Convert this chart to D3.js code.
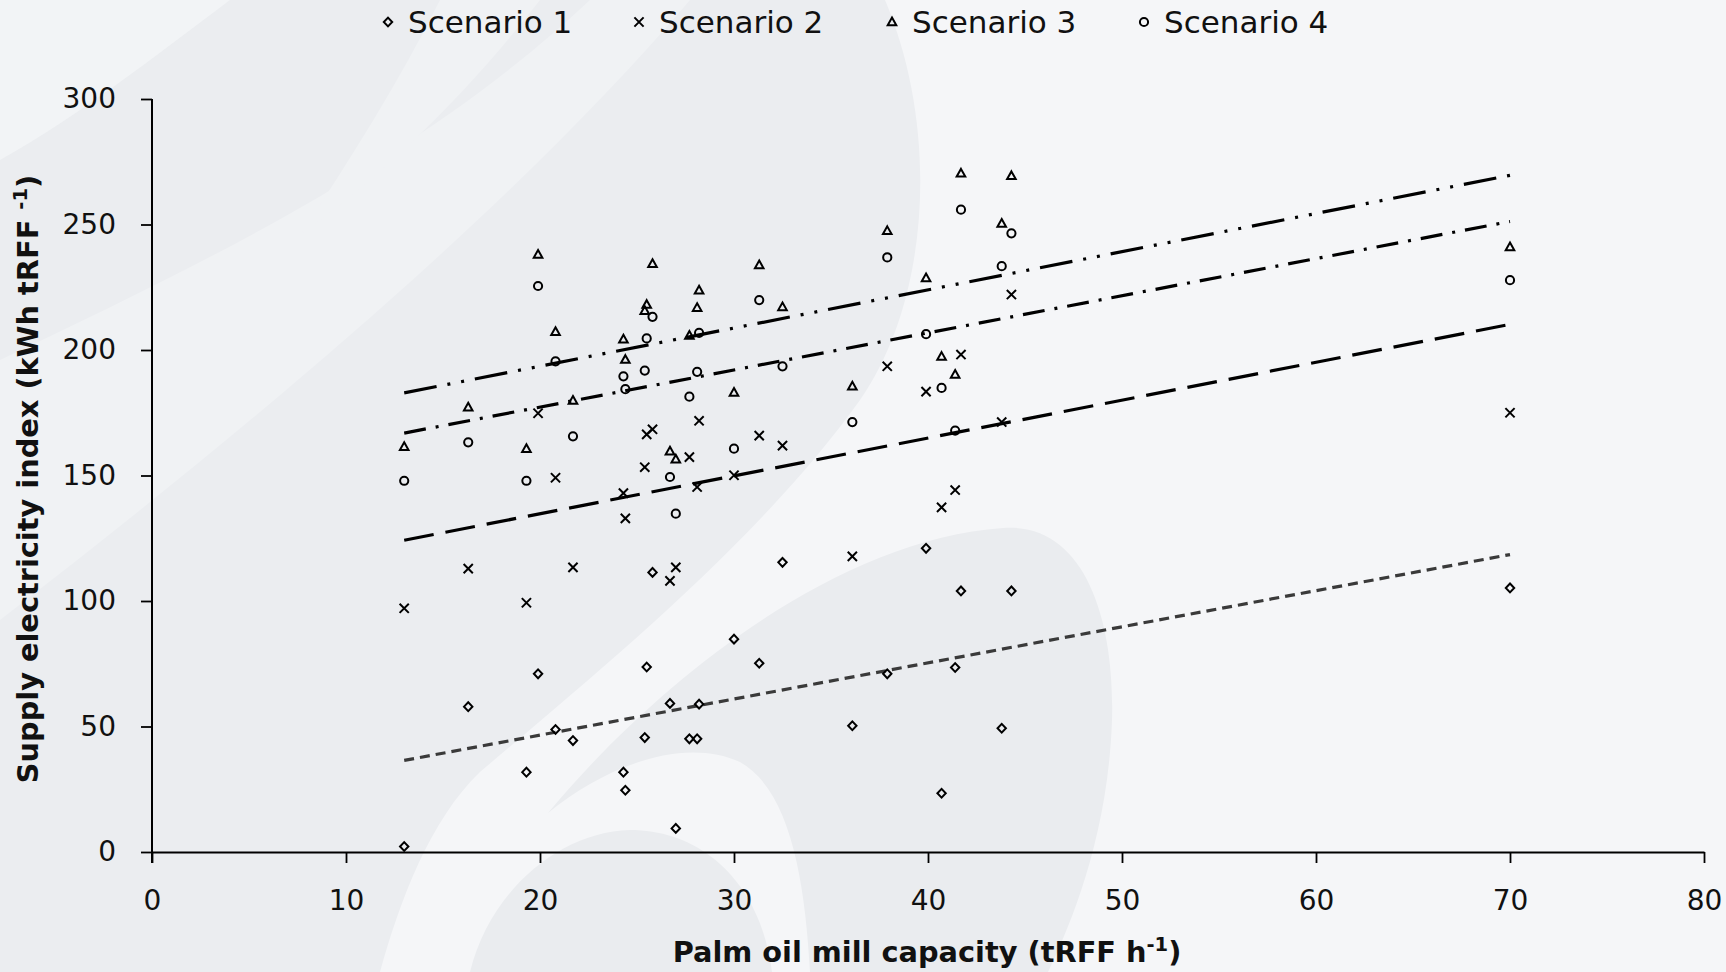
<!DOCTYPE html>
<html>
<head>
<meta charset="utf-8">
<script src="https://cdn.jsdelivr.net/npm/d3@7"></script>
<style>
body { margin: 0; background: #ebedf0; }
svg { display: block; }
</style>
</head>
<body>
<div id="chart"></div>
<script>
// palm oil mill capacity (tRFF/h) and supply electricity index per scenario
var capacity  = [13.0, 16.3, 19.3, 19.9, 20.8, 21.7, 24.3, 24.4, 25.4, 25.5, 25.8, 26.7, 27.0, 27.7, 28.1, 28.2, 30.0, 31.3, 32.5, 36.1, 37.9, 39.9, 40.7, 41.4, 41.7, 43.8, 44.3, 70.0];
var scenario1 = [2.2, 57.9, 31.8, 71.0, 48.8, 44.4, 31.8, 24.6, 45.6, 73.7, 111.4, 59.2, 9.4, 45.1, 45.1, 58.9, 84.8, 75.2, 115.4, 50.3, 71.0, 121.0, 23.4, 73.5, 104.0, 49.3, 104.0, 105.2];
var scenario2 = [97.1, 112.9, 99.3, 174.8, 149.1, 113.4, 143.0, 132.9, 153.3, 166.4, 168.4, 108.0, 113.4, 157.3, 145.4, 171.8, 150.1, 165.9, 161.9, 117.8, 193.5, 183.4, 137.3, 144.2, 198.2, 171.3, 222.1, 175.0];
var scenario3 = [161.5, 177.2, 160.7, 238.1, 207.3, 179.9, 204.3, 196.2, 215.7, 218.1, 234.4, 159.7, 156.5, 205.8, 216.9, 223.8, 183.1, 233.9, 217.2, 185.6, 247.5, 228.7, 197.4, 190.3, 270.4, 250.4, 269.4, 241.1];
var scenario4 = [147.9, 163.2, 147.9, 225.5, 195.5, 165.6, 189.5, 184.4, 191.8, 204.6, 213.2, 149.4, 134.8, 181.4, 191.3, 206.8, 160.7, 219.9, 193.5, 171.3, 236.9, 206.3, 184.9, 167.9, 255.9, 233.4, 246.5, 227.8];

// linear trendlines (start / end values)
var trendX = [13, 70];
var trend1 = [36.5, 118.5];
var trend2 = [124.2, 210.2];
var trend3 = [182.9, 269.6];
var trend4 = [166.9, 251.2];

var seriesNames = ["Scenario 1", "Scenario 2", "Scenario 3", "Scenario 4"];
var xTicks = [0, 10, 20, 30, 40, 50, 60, 70, 80];
var yTicks = [0, 50, 100, 150, 200, 250, 300];

var W = 1726, H = 972;
var font = "DejaVu Sans";

var svg = d3.select("#chart").append("svg")
    .attr("width", W)
    .attr("height", H);

// decorative background (faint watermark shapes)
var bg = svg.append("g");
bg.append("rect").attr("width", W).attr("height", H).attr("fill", "#ebedf0");
bg.append("path").attr("fill", "#f2f4f6")
    .attr("d", "M0,0 L230,0 C150,60 80,115 0,160 Z");
bg.append("path").attr("fill", "#f0f2f4")
    .attr("d", "M0,360 C200,265 420,160 590,0 L690,0 C520,200 260,420 0,620 Z");
bg.append("path").attr("fill", "#f0f2f4")
    .attr("d", "M440,0 L540,0 C470,90 390,170 300,235 C350,160 400,80 440,0 Z");
bg.append("path").attr("fill", "#f5f6f8")
    .attr("d", "M885,0 C940,130 930,300 860,400 C760,540 600,670 480,772 C430,820 400,900 380,972 L1726,972 L1726,0 Z");
bg.append("path").attr("fill", "#eaecef")
    .attr("d", "M548,813 C650,690 830,540 1003,528 C1085,522 1115,620 1112,720 C1108,840 1068,930 1048,972 L810,972 C805,880 790,790 740,762 C680,735 600,770 548,813 Z");
bg.append("path").attr("fill", "#eaecef")
    .attr("d", "M470,972 C490,890 560,832 630,830 C700,830 760,880 772,972 Z");

// scales
var x = d3.scaleLinear().domain([0, 80]).range([152, 1704]);
var y = d3.scaleLinear().domain([0, 300]).range([852, 99]);

// axes
var yAxis = svg.append("g")
    .attr("transform", "translate(" + x(0) + ",0)")
    .call(d3.axisLeft(y).tickValues(yTicks).tickSize(11).tickSizeOuter(0).tickPadding(25));
var xAxis = svg.append("g")
    .attr("transform", "translate(0," + y(0) + ")")
    .call(d3.axisBottom(x).tickValues(xTicks).tickSize(11).tickSizeOuter(0).tickPadding(27));

[xAxis, yAxis].forEach(function(a) {
  a.select(".domain").attr("stroke", "#000").attr("stroke-width", 2);
  a.selectAll(".tick line").attr("stroke", "#000").attr("stroke-width", 1.8);
  a.selectAll(".tick text")
    .attr("font-family", font)
    .attr("font-size", 28)
    .attr("fill", "#111");
});
// y axis line runs down through the x axis tick at 0
yAxis.select(".domain").attr("d", "M0," + y(300) + "V" + (y(0) + 11));

// axis titles
var xt = svg.append("text")
    .attr("x", 927).attr("y", 962)
    .attr("text-anchor", "middle")
    .attr("font-family", font).attr("font-weight", "bold").attr("font-size", 28.8)
    .attr("fill", "#111");
xt.append("tspan").text("Palm oil mill capacity (tRFF h");
xt.append("tspan").attr("dy", -11).attr("font-size", 19.5).text("-1");
xt.append("tspan").attr("dy", 11).text(")");

var yt = svg.append("text")
    .attr("transform", "translate(38,479) rotate(-90)")
    .attr("text-anchor", "middle")
    .attr("font-family", font).attr("font-weight", "bold").attr("font-size", 28.8)
    .attr("fill", "#111");
yt.append("tspan").text("Supply electricity index (kWh tRFF ");
yt.append("tspan").attr("dy", -11).attr("font-size", 19.5).text("-1");
yt.append("tspan").attr("dy", 11).text(")");

// marker shapes
var markers = [
  "M0,-4.4L4.2,0L0,4.4L-4.2,0Z",
  "M-4.6,-4.6L4.6,4.6M-4.6,4.6L4.6,-4.6",
  "M0,-4.4L4.3,3.3L-4.3,3.3Z",
  d3.symbol(d3.symbolCircle, Math.PI * 4.1 * 4.1)()
];

var series = [scenario1, scenario2, scenario3, scenario4];
var trends = [trend1, trend2, trend3, trend4];
var dashes = ["10,6", "30,12", "33,11,3,11,3,11", "22,10,3,10"];
var lineColors = ["#3a3a3a", "#000", "#000", "#000"];

// trendlines
var line = d3.line()
    .x(function(d) { return x(d[0]); })
    .y(function(d) { return y(d[1]); });

trends.forEach(function(t, i) {
  svg.append("path")
    .datum(trendX.map(function(v, j) { return [v, t[j]]; }))
    .attr("d", line)
    .attr("fill", "none")
    .attr("stroke", lineColors[i])
    .attr("stroke-width", 3.2)
    .attr("stroke-dasharray", dashes[i]);
});

// scatter points
series.forEach(function(vals, i) {
  svg.append("g")
    .selectAll("path")
    .data(vals)
    .enter().append("path")
      .attr("transform", function(d, j) { return "translate(" + x(capacity[j]) + "," + y(d) + ")"; })
      .attr("d", markers[i])
      .attr("fill", "none")
      .attr("stroke", "#000")
      .attr("stroke-width", 2);
});

// legend
var legendX = [388, 639, 892, 1144];
var legend = svg.append("g")
  .selectAll("g")
  .data(seriesNames)
  .enter().append("g")
    .attr("transform", function(d, i) { return "translate(" + legendX[i] + ",22)"; });

legend.append("path")
    .attr("d", function(d, i) { return markers[i]; })
    .attr("fill", "none")
    .attr("stroke", "#000")
    .attr("stroke-width", 2);

legend.append("text")
    .attr("x", 20)
    .attr("y", 11)
    .attr("font-family", font)
    .attr("font-size", 31)
    .attr("fill", "#111")
    .text(function(d) { return d; });
</script>
</body>
</html>
